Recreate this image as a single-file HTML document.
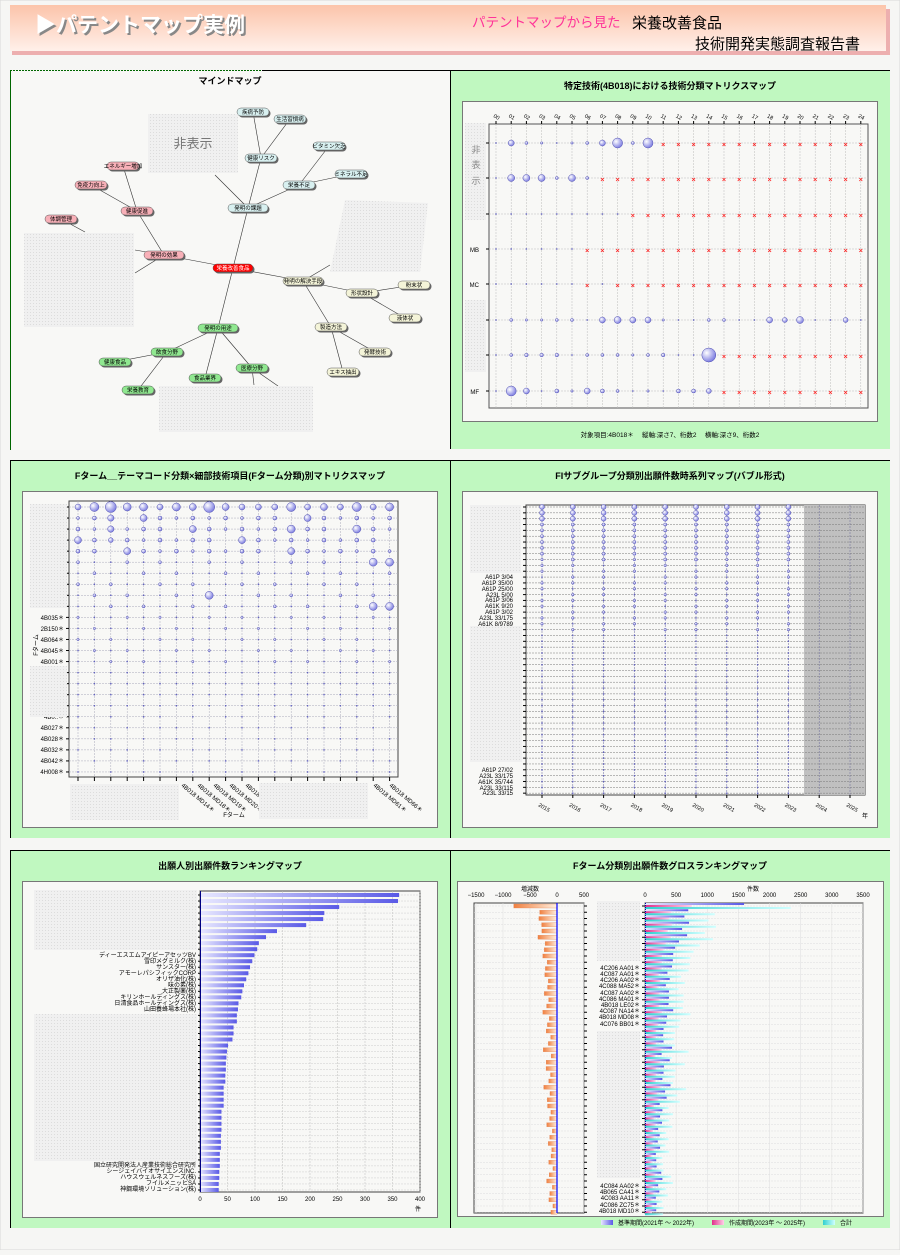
<!DOCTYPE html>
<html><head><meta charset="utf-8">
<style>
html,body{margin:0;padding:0;}
body{width:900px;height:1250px;background:#f6f6f4;font-family:"Liberation Sans","Noto Sans CJK JP",sans-serif;overflow:hidden;}
svg text{font-family:"Liberation Sans","Noto Sans CJK JP",sans-serif;}
</style></head><body>
<svg id="s" width="900" height="1250" xmlns="http://www.w3.org/2000/svg">
<defs>
<linearGradient id="hdr" x1="0" y1="0" x2="0" y2="1"><stop offset="0" stop-color="#fcc4aa"/><stop offset="1" stop-color="#fff0ea"/></linearGradient>
<radialGradient id="bub" cx="0.35" cy="0.35" r="0.7"><stop offset="0" stop-color="#ffffff"/><stop offset="1" stop-color="#7878e0"/></radialGradient>
<linearGradient id="gb" x1="0" x2="1"><stop offset="0" stop-color="#e8e8ff"/><stop offset="1" stop-color="#5a5ae6"/></linearGradient>
<linearGradient id="go" x1="0" x2="1"><stop offset="0" stop-color="#f08040"/><stop offset="1" stop-color="#fff0e0"/></linearGradient>
<linearGradient id="gp" x1="0" x2="1"><stop offset="0" stop-color="#e0308a"/><stop offset="1" stop-color="#ffd0e8"/></linearGradient>
<linearGradient id="gc" x1="0" x2="1"><stop offset="0" stop-color="#30d0d0"/><stop offset="1" stop-color="#d0ffff"/></linearGradient>
<pattern id="hid" width="3" height="3" patternUnits="userSpaceOnUse"><rect width="3" height="3" fill="#f0f0f0"/><rect width="1" height="1" fill="#dcdcdc"/></pattern>
</defs>
<rect x="0" y="0" width="900" height="1250" fill="#f6f6f4" stroke="#d8d8d8"/>
<!-- header -->
<rect x="12" y="9" width="878" height="46" fill="#e88080" opacity="0.6"/>
<rect x="10" y="5" width="876" height="46" fill="url(#hdr)"/>
<text x="37" y="34" font-size="21" font-weight="bold" fill="#888" >▶パテントマップ実例</text>
<text x="35" y="32" font-size="21" font-weight="bold" fill="#fff">▶パテントマップ実例</text>
<text x="472" y="27" font-size="13.5" fill="#ff3399">パテントマップから見た</text>
<text x="632" y="28" font-size="15" fill="#000">栄養改善食品</text>
<text x="860" y="49" font-size="15" fill="#000" text-anchor="end">技術開発実態調査報告書</text>

<!-- panel frames -->
<rect x="10" y="70" width="440" height="380" fill="#f8f8f6"/>
<line x1="10.5" y1="70" x2="10.5" y2="450" stroke="#006600"/>
<line x1="10" y1="70.5" x2="262" y2="70.5" stroke="#006600" stroke-dasharray="2,1"/>
<rect x="262" y="70" width="178" height="380" fill="#f8f8f6"/>
<rect x="450" y="70" width="440" height="379" fill="#c0f8c0"/>
<line x1="262" y1="70.5" x2="890" y2="70.5" stroke="#000"/>
<line x1="450.5" y1="70" x2="450.5" y2="449" stroke="#000"/>

<rect x="10" y="460" width="880" height="378" fill="#c0f8c0"/>
<line x1="10" y1="460.5" x2="890" y2="460.5" stroke="#000"/>
<line x1="10.5" y1="460" x2="10.5" y2="838" stroke="#000"/>
<line x1="450.5" y1="460" x2="450.5" y2="838" stroke="#000"/>

<rect x="10" y="850" width="880" height="378" fill="#c0f8c0"/>
<line x1="10" y1="850.5" x2="890" y2="850.5" stroke="#000"/>
<line x1="10.5" y1="850" x2="10.5" y2="1228" stroke="#000"/>
<line x1="450.5" y1="850" x2="450.5" y2="1228" stroke="#000"/>

<!-- titles -->
<text x="230" y="84" font-size="9" font-weight="bold" text-anchor="middle">マインドマップ</text>
<text x="670" y="89" font-size="9" font-weight="bold" text-anchor="middle">特定技術(4B018)における技術分類マトリクスマップ</text>
<text x="230" y="479" font-size="9" font-weight="bold" text-anchor="middle">Fターム__テーマコード分類×細部技術項目(Fターム分類)別マトリクスマップ</text>
<text x="670" y="479" font-size="9" font-weight="bold" text-anchor="middle">FIサブグループ分類別出願件数時系列マップ(バブル形式)</text>
<text x="230" y="869" font-size="9" font-weight="bold" text-anchor="middle">出願人別出願件数ランキングマップ</text>
<text x="670" y="869" font-size="9" font-weight="bold" text-anchor="middle">Fターム分類別出願件数グロスランキングマップ</text>

<!-- inner white boxes -->
<rect x="462.5" y="101.5" width="415" height="320" fill="#f8f8f6" stroke="#777"/>
<rect x="22.5" y="491.5" width="415" height="336" fill="#f8f8f6" stroke="#777"/>
<rect x="462.5" y="491.5" width="415" height="336" fill="#f8f8f6" stroke="#777"/>
<rect x="22.5" y="881.5" width="415" height="336" fill="#f8f8f6" stroke="#777"/>
<rect x="457.5" y="881.5" width="426" height="335" fill="#f8f8f6" stroke="#777"/>

<g id="g1"></g>

<!-- panel2 labels -->
<g font-size="6" fill="#000">
<text x="479" y="252" text-anchor="end">MB</text>
<text x="479" y="287" text-anchor="end">MC</text>
<text x="479" y="394" text-anchor="end">MF</text>
</g>
<text x="670" y="437" font-size="6.5" text-anchor="middle">対象項目:4B018＊　 縦軸:深さ7、桁数2　 横軸:深さ9、桁数2</text>
<rect x="465" y="123" width="21" height="97" fill="url(#hid)"/>
<rect x="465" y="300" width="21" height="72" fill="url(#hid)"/>
<g font-size="9" fill="#888"><text x="476" y="153" text-anchor="middle">非</text><text x="476" y="168" text-anchor="middle">表</text><text x="476" y="184" text-anchor="middle">示</text></g>

<!-- panel3 labels -->
<g font-size="6" text-anchor="end">
<text x="64" y="620">4B035＊</text><text x="64" y="631">2B150＊</text><text x="64" y="642">4B064＊</text><text x="64" y="653">4B045＊</text><text x="64" y="664">4B001＊</text>
<text x="64" y="719">4B0..＊</text><text x="64" y="730">4B027＊</text><text x="64" y="741">4B028＊</text><text x="64" y="752">4B032＊</text><text x="64" y="763">4B042＊</text><text x="64" y="774">4H008＊</text>
</g>
<text x="38" y="645" font-size="6" transform="rotate(-90 38 645)" text-anchor="middle">Fターム</text>
<text x="234" y="817" font-size="6" text-anchor="middle">Fターム</text>
<g font-size="6">
<text transform="translate(181,786) rotate(40)">4B018 MD14＊</text>
<text transform="translate(197,786) rotate(40)">4B018 MD18＊</text>
<text transform="translate(213,786) rotate(40)">4B018 MD19＊</text>
<text transform="translate(229,786) rotate(40)">4B018 MD20＊</text>
<text transform="translate(245,786) rotate(40)">4B018 MD23＊</text>
<text transform="translate(373,786) rotate(40)">4B018 MD61＊</text>
<text transform="translate(389,786) rotate(40)">4B018 MD66＊</text>
</g>
<rect x="30" y="504" width="37" height="104" fill="url(#hid)"/>
<rect x="30" y="666" width="37" height="51" fill="url(#hid)"/>
<rect x="70" y="784" width="109" height="36" fill="url(#hid)"/>
<rect x="259" y="783" width="109" height="36" fill="url(#hid)"/>

<!-- panel4 labels -->
<g font-size="6" text-anchor="end">
<text x="513" y="579">A61P  3/04</text><text x="513" y="585">A61P 35/00</text><text x="513" y="591">A61P 25/00</text><text x="513" y="597">A23L  5/00</text><text x="513" y="602">A61P  3/06</text><text x="513" y="608">A61K  9/20</text><text x="513" y="614">A61P  3/02</text><text x="513" y="620">A23L 33/175</text><text x="513" y="626">A61K  8/9789</text>
<text x="513" y="772">A61P 27/02</text><text x="513" y="778">A23L 33/175</text><text x="513" y="784">A61K 35/744</text><text x="513" y="790">A23L 33/115</text><text x="513" y="795">A23L 33/15</text>
</g>
<rect x="470" y="505" width="51" height="68" fill="url(#hid)"/>
<rect x="470" y="626" width="52" height="136" fill="url(#hid)"/>
<text x="862" y="818" font-size="6">年</text>

<!-- panel5 labels -->
<g font-size="6" text-anchor="end">
<text x="196" y="957">ディーエスエムアイピーアセッツBV</text><text x="196" y="963">雪印メグミルク(株)</text><text x="196" y="969">サンスター(株)</text><text x="196" y="975">アモーレパシフィックCORP</text><text x="196" y="981">オリザ油化(株)</text><text x="196" y="987">味の素(株)</text><text x="196" y="993">大正製薬(株)</text><text x="196" y="999">キリンホールディングス(株)</text><text x="196" y="1005">日清食品ホールディングス(株)</text><text x="196" y="1011">山田養蜂場本社(株)</text>
<text x="196" y="1167">国立研究開発法人産業技術総合研究所</text><text x="196" y="1173">シージェイバイオサイエンスINC.</text><text x="196" y="1179">ハウスウェルネスフーズ(株)</text><text x="196" y="1185">フイルメニッヒSA</text><text x="196" y="1191">神鋼環境ソリューション(株)</text>
</g>
<rect x="34" y="890" width="163" height="60" fill="url(#hid)"/>
<rect x="34" y="1014" width="163" height="147" fill="url(#hid)"/>
<text x="415" y="1211" font-size="6">件</text>

<!-- panel6 labels -->
<g font-size="6" text-anchor="end">
<text x="640" y="970">4C206 AA01＊</text><text x="640" y="976">4C087 AA01＊</text><text x="640" y="982">4C206 AA02＊</text><text x="640" y="988">4C088 MA52＊</text><text x="640" y="995">4C087 AA02＊</text><text x="640" y="1001">4C086 MA01＊</text><text x="640" y="1007">4B018 LE02＊</text><text x="640" y="1013">4C087 NA14＊</text><text x="640" y="1019">4B018 MD08＊</text><text x="640" y="1026">4C076 BB01＊</text>
<text x="640" y="1188">4C084 AA02＊</text><text x="640" y="1194">4B065 CA41＊</text><text x="640" y="1200">4C083 AA11＊</text><text x="640" y="1207">4C086 ZC75＊</text><text x="640" y="1213">4B018 MD10＊</text>
</g>
<rect x="597" y="901" width="43" height="60" fill="url(#hid)"/>
<rect x="597" y="1031" width="43" height="147" fill="url(#hid)"/>
<text x="530" y="891" font-size="6" text-anchor="middle">増減数</text>
<text x="753" y="891" font-size="6" text-anchor="middle">件数</text>
<g font-size="6">
<rect x="601" y="1220" width="12" height="5" fill="url(#gb)"/><text x="618" y="1225">基準期間(2021年 ～ 2022年)</text>
<rect x="712" y="1220" width="12" height="5" fill="url(#gp)"/><text x="729" y="1225">作成期間(2023年 ～ 2025年)</text>
<rect x="823" y="1220" width="12" height="5" fill="url(#gc)"/><text x="840" y="1225">合計</text>
</g>

<!-- mind map -->
<g id="mm"></g>
<rect x="148" y="114" width="90" height="59" fill="url(#hid)"/>
<text x="193" y="148" font-size="13" fill="#777" text-anchor="middle">非表示</text>
<rect x="24" y="233" width="110" height="94" fill="url(#hid)"/>
<rect x="159" y="386" width="154" height="46" fill="url(#hid)"/>
<polygon points="345,200 428,203 420,272 330,272" fill="url(#hid)"/>
<g id="mmn" font-size="5.5" text-anchor="middle">
<text x="233" y="270" fill="#fff">栄養改善食品</text>
<text x="248" y="210">発明の課題</text><text x="261" y="160">健康リスク</text><text x="253" y="114">疾病予防</text><text x="290" y="121">生活習慣病</text><text x="299" y="187">栄養不足</text><text x="329" y="148">ビタミン欠乏</text><text x="351" y="176">ミネラル不足</text>
<text x="164" y="257">発明の効果</text><text x="137" y="213">健康促進</text><text x="123" y="168">エネルギー増加</text><text x="91" y="187">免疫力向上</text><text x="61" y="221">体調管理</text>
<text x="303" y="283">発明の解決手段</text><text x="362" y="295">形状設計</text><text x="414" y="287">粉末状</text><text x="405" y="320">液体状</text><text x="331" y="329">製造方法</text><text x="375" y="354">発酵技術</text><text x="343" y="374">エキス抽出</text>
<text x="218" y="330">発明の用途</text><text x="167" y="354">飲食分野</text><text x="115" y="364">健康食品</text><text x="138" y="392">栄養教育</text><text x="205" y="380">食品業界</text><text x="252" y="370">医療分野</text>
</g>
</svg>
<script>
const S=document.getElementById('s'),G=document.getElementById('g1'),NS='http://www.w3.org/2000/svg';
function el(t,a,p){const e=document.createElementNS(NS,t);for(const k in a)e.setAttribute(k,a[k]);(p||G).appendChild(e);return e;}
function tx(x,y,s,a){const e=el('text',Object.assign({x:x,y:y,'font-size':6},a||{}));e.textContent=s;return e;}
// mind map
const mm=document.getElementById('mm');
const N={c:[233,268,'#ff0000'],k:[248,208,'#d8f0f0'],k1:[261,158,'#d8f0f0'],k2:[253,112,'#d8f0f0'],k3:[290,119,'#d8f0f0'],k4:[299,185,'#d8f0f0'],k5:[329,146,'#d8f0f0'],k6:[351,174,'#d8f0f0'],
e:[164,255,'#f8b0b8'],e1:[137,211,'#f8b0b8'],e2:[123,166,'#f8b0b8'],e3:[91,185,'#f8b0b8'],e4:[61,219,'#f8b0b8'],
s:[303,281,'#f4f4d8'],s1:[362,293,'#f4f4d8'],s2:[414,285,'#f4f4d8'],s3:[405,318,'#f4f4d8'],s4:[331,327,'#f4f4d8'],s5:[375,352,'#f4f4d8'],s6:[343,372,'#f4f4d8'],
u:[218,328,'#90e890'],u1:[167,352,'#90e890'],u2:[115,362,'#90e890'],u3:[138,390,'#90e890'],u4:[205,378,'#90e890'],u5:[252,368,'#90e890']};
const E=[['c','k'],['k','k1'],['k1','k2'],['k1','k3'],['k','k4'],['k4','k5'],['k4','k6'],['k',null,215,175],['c','e'],['e','e1'],['e1','e2'],['e1','e3'],['e4',null,85,232],['e',null,135,250],['e',null,135,273],['c','s'],['s','s1'],['s1','s2'],['s1','s3'],['s','s4'],['s4','s5'],['s4','s6'],['s',null,330,265],['c','u'],['u','u1'],['u1','u2'],['u1','u3'],['u','u4'],['u','u5'],['u5',null,254,385],['u5',null,278,386]];
E.forEach(a=>{const p=N[a[0]],q=a[1]?N[a[1]]:[a[2],a[3]];el('line',{x1:p[0],y1:p[1],x2:q[0],y2:q[1],stroke:'#333','stroke-width':0.6},mm);});
for(const k in N){const n=N[k];const w=k.length==1?40:32;el('rect',{x:n[0]-w/2+1.5,y:n[1]-4+1.5,width:w,height:8,rx:4,fill:'#666'},mm);el('rect',{x:n[0]-w/2,y:n[1]-4,width:w,height:8,rx:4,fill:n[2],stroke:'#555','stroke-width':0.5},mm);}
function bub(x,y,r){if(r<=0)return;if(r<1.2){el('rect',{x:x-0.7,y:y-0.7,width:1.4,height:1.4,fill:'#6060c0'});return;}el('circle',{cx:x,cy:y,r:r,fill:'url(#bub)',stroke:'#5050b0','stroke-width':0.5});}
function xm(x,y){el('path',{d:`M${x-1.5} ${y-1.5}L${x+1.5} ${y+1.5}M${x-1.5} ${y+1.5}L${x+1.5} ${y-1.5}`,stroke:'#ff2020','stroke-width':0.8});}
// panel2
(function(){const x0=496,dx=15.2,rows=[143,178,214,249,284,320,355,391];
el('rect',{x:489,y:124,width:379,height:284,fill:'#f8f8f6',stroke:'#555'});
for(let i=0;i<25;i++){const x=x0+i*dx;el('line',{x1:x,y1:124,x2:x,y2:408,stroke:'#bbb','stroke-width':0.5,'stroke-dasharray':'2,1'});el('line',{x1:x,y1:121,x2:x,y2:124,stroke:'#000'});tx(x-3,117,String(i).padStart(2,'0'),{'font-size':5.5,transform:`rotate(30 ${x-3} 117)`});}
rows.forEach(y=>{el('line',{x1:489,y1:y,x2:868,y2:y,stroke:'#bbb','stroke-width':0.5,'stroke-dasharray':'2,1'});el('line',{x1:486,y1:y,x2:489,y2:y,stroke:'#000'});});
const D=[[0,3,1.5,1.2,1,1.2,1.5,3,5,1.5,5,-11],[0,3.5,3.5,3.5,1.5,3.5,1.5,-7],[1,1,1,1,1,1,1,1,1,-9],[1,1,1,1,1,1,-6],[1,1,1,1,1,1,'x',1,-8],
[0,1.5,1.2,1.2,1.5,1.5,1,3,3.5,3,3,1.2,1,1,1.5,1.5,1,1,3,2.5,3.5,1,1,2.5,1],[0,1.5,1.8,1.8,1.8,1,1.5,1.5,1.5,1.2,1.5,1.8,1,1,7,-15],[0,5,3,1,2,1.2,3,2,1.5,1,1.2,1,2,2,2.5,-15]];
D.forEach((r,ri)=>{const y=rows[ri];let c=0;for(const v of r){if(typeof v==='number'&&v<0){for(let j=-v;j<25;j++)xm(x0+j*dx,y+1.5);break;}if(v==='x')xm(x0+c*dx,y+1.5);else bub(x0+c*dx,y,v||0.5);c++;}});
})();
// panel3
(function(){const x0=78,dx=16.4,y0=507,dy=11.04;
el('rect',{x:69,y:501,width:329,height:276,fill:'#f8f8f6',stroke:'#444'});
for(let i=0;i<20;i++){const x=x0+i*dx;el('line',{x1:x,y1:501,x2:x,y2:777,stroke:'#aab','stroke-width':0.5,'stroke-dasharray':'2,1'});el('line',{x1:x,y1:777,x2:x,y2:781,stroke:'#000'});}
for(let j=0;j<25;j++){const y=y0+j*dy;el('line',{x1:69,y1:y,x2:398,y2:y,stroke:'#aab','stroke-width':0.5,'stroke-dasharray':'2,1'});el('line',{x1:66,y1:y,x2:69,y2:y,stroke:'#000'});}
const big=[3,4.5,5.5,4,4,3,4,3.5,5.5,3.5,3,3,3,4.5,3,3.5,3,4.5,3,4];
for(let j=0;j<25;j++)for(let i=0;i<20;i++){let r;const h=(i*7+j*13)%5;if(j==0)r=big[i];else if(j<5)r=[0,1.5,2,3.5,2,1.5,2,2,2,1.5][(i*3+j)%10]*(i==2?1.6:1);else if(j<10)r=h<2?1.5:1;else if(j<15)r=h<2?1.2:0.8;else r=h<1?1:0.7;
if((j==2&&(i==13||i==17))||(j==5&&(i==18||i==19))||(j==8&&i==8)||(j==9&&i>=18))r=4;if(j>=19&&h>2)r=0;bub(x0+i*dx,y0+j*dy,r);}
})();
// panel4
(function(){const x0=542,dx=30.8,y0=507,dy=5.84;
el('rect',{x:526,y:505,width:339,height:290,fill:'#f8f8f6',stroke:'#444'});
el('rect',{x:804,y:505,width:61,height:290,fill:'#c0c0c0'});
for(let j=0;j<50;j++){const y=y0+j*dy;el('line',{x1:526,y1:y,x2:865,y2:y,stroke:'#777','stroke-width':0.5,'stroke-dasharray':'2,1'});el('line',{x1:523,y1:y,x2:526,y2:y,stroke:'#000'});}
for(let i=0;i<11;i++){const x=x0+i*dx;el('line',{x1:x,y1:505,x2:x,y2:795,stroke:'#669','stroke-width':0.5,'stroke-dasharray':'2,1'});el('line',{x1:x,y1:795,x2:x,y2:798,stroke:'#000'});tx(x-4,806,String(2015+i),{'font-size':5.5,transform:`rotate(30 ${x-4} 806)`});
if(i<9)for(let j=0;j<50;j++){let r=j<3?2.5:j<10?1.6:j<22?1.3:0.9;if((i+j)%3==0&&j>8)r*=0.8;bub(x,y0+j*dy,r);}}
})();
// panel5
(function(){const x0=200,sc=220/400,y0=895,dy=6.02;
el('rect',{x:200,y:891,width:220,height:301,fill:'#f8f8f6',stroke:'#444'});
for(let v=0;v<=400;v+=50){const x=x0+v*sc;el('line',{x1:x,y1:891,x2:x,y2:1192,stroke:'#bbb','stroke-width':0.5,'stroke-dasharray':'2,1'});tx(x,1201,String(v),{'text-anchor':'middle','font-size':6});}
const V=[362,360,253,226,224,193,140,120,107,104,99,95,91,88,84,80,77,75,70,69,67,67,61,61,59,51,49,48,47,47,46,46,43,43,43,43,39,39,39,39,38,38,38,36,36,36,35,35,34,34];
V.forEach((v,j)=>{const y=y0+j*dy;el('line',{x1:200,y1:y,x2:420,y2:y,stroke:'#ccc','stroke-width':0.5,'stroke-dasharray':'2,1'});el('line',{x1:198,y1:y,x2:200,y2:y,stroke:'#000'});el('rect',{x:200,y:y-2,width:v*sc,height:4,fill:'url(#gb)'});});
el('line',{x1:200.5,y1:891,x2:200.5,y2:1192,stroke:'#000080'});
})();
// panel6
(function(){const y0=906,dy=6.25,sc=218/3500;
el('rect',{x:474,y:903,width:110,height:310,fill:'#f8f8f6',stroke:'#444'});
el('rect',{x:645,y:903,width:218,height:310,fill:'#f8f8f6',stroke:'#444'});
[-1500,-1000,-500,0,500].forEach(v=>{const x=557+v*27/500;el('line',{x1:x,y1:903,x2:x,y2:1213,stroke:'#ddd','stroke-width':0.5});tx(x,897,v<0?'−'+(-v):String(v),{'text-anchor':'middle'});});
for(let v=0;v<=3500;v+=500){const x=645+v*sc;el('line',{x1:x,y1:903,x2:x,y2:1213,stroke:'#ddd','stroke-width':0.5});tx(x,897,String(v),{'text-anchor':'middle'});}
const T=[2340,1120,1020,1140,960,1090,880,780,730,720,700,580,640,540,620,620,610,730,570,550,480,470,480,700,430,640,490,480,450,660,520,560,380,450,390,440,340,380,330,390,280,290,300,420,450,340,370,280,300,290];
T.forEach((t,j)=>{const y=y0+j*dy;el('line',{x1:474,y1:y,x2:584,y2:y,stroke:'#ddd','stroke-width':0.5,'stroke-dasharray':'2,1'});el('line',{x1:645,y1:y,x2:863,y2:y,stroke:'#ddd','stroke-width':0.5,'stroke-dasharray':'2,1'});
el('line',{x1:642,y1:y,x2:645,y2:y,stroke:'#000'});el('line',{x1:584,y1:y,x2:587,y2:y,stroke:'#000'});
const b=j==0?1590:t*0.62,c=j==0?750:t*0.38,d=j==0?-800:-(t*0.25+(j%3)*40);
el('rect',{x:645,y:y-3,width:b*sc,height:2,fill:'url(#gb)'});el('rect',{x:645,y:y-1,width:c*sc,height:2,fill:'url(#gp)'});el('rect',{x:645,y:y+1,width:t*sc,height:2,fill:'url(#gc)'});
el('rect',{x:557+d*27/500,y:y-2,width:-d*27/500,height:4,fill:'url(#go)',stroke:'#e08050','stroke-width':0.3});});
el('line',{x1:557,y1:903,x2:557,y2:1213,stroke:'#0000ff','stroke-width':1.2});
el('line',{x1:645.5,y1:903,x2:645.5,y2:1213,stroke:'#0000aa','stroke-dasharray':'1,1'});
})();
</script>
</body></html>
